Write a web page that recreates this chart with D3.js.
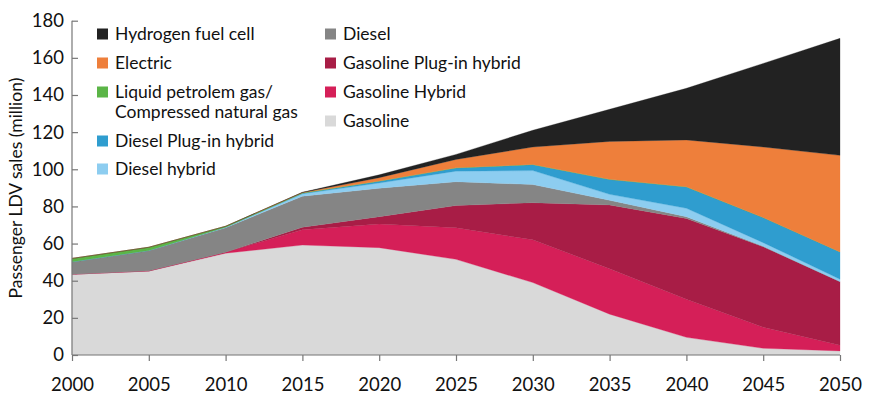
<!DOCTYPE html>
<html><head><meta charset="utf-8">
<script src="https://cdn.jsdelivr.net/npm/d3@7/dist/d3.min.js"></script>
<style>body{margin:0;background:#fff}svg{display:block}text{font-family:Lato,"Open Sans",sans-serif;fill:#111}</style>
</head><body><svg id="c" width="870" height="410"></svg>
<script>
const years = [2000,2005,2010,2015,2020,2025,2030,2035,2040,2045,2050];
const gasoline       = [43.5,45.2,54.8,59.2,57.8,51.5,39,22,9.5,3.6,2.2];
const gasolineHybrid = [0,0.1,0.5,8.3,12.7,17,23,24.5,20.5,11.4,3];
const gasolinePlugIn = [0,0,0,1.3,4,12,20,34.3,43.5,43.3,34.3];
const diesel         = [6.7,11,13.2,16.7,15.3,12.8,9.8,2.5,1,0.2,0.1];
const dieselHybrid   = [0,0,0.3,1.3,2.8,5.7,7.5,3.2,4.5,2,1.2];
const dieselPlugIn   = [0,0,0,0.3,1,1.7,3.2,8,11.5,13.5,14.7];
const lpgCng         = [1.8,1.7,0.5,0.2,0.1,0.1,0.1,0.1,0.1,0,0];
const electric       = [0,0,0,0.2,1.8,4.5,9.4,20.4,25.2,38,52];
const hydrogen       = [0,0,0,0.1,1.5,2.7,9,17.3,27.8,45,63];
const yTicks = [0,20,40,60,80,100,120,140,160,180];
const xTicks = years;

const series = [
  {key:"gasoline", name:"Gasoline", values:gasoline, color:"#d9d9d9"},
  {key:"gh", name:"Gasoline Hybrid", values:gasolineHybrid, color:"#d51f58"},
  {key:"gp", name:"Gasoline Plug-in hybrid", values:gasolinePlugIn, color:"#a81d46"},
  {key:"d", name:"Diesel", values:diesel, color:"#858585"},
  {key:"dh", name:"Diesel hybrid", values:dieselHybrid, color:"#8dcdf0"},
  {key:"dp", name:"Diesel Plug-in hybrid", values:dieselPlugIn, color:"#2f9dcf"},
  {key:"lpg", name:"Liquid petrolem gas/|Compressed natural gas", values:lpgCng, color:"#5bb547"},
  {key:"e", name:"Electric", values:electric, color:"#ee7f3b"},
  {key:"h", name:"Hydrogen fuel cell", values:hydrogen, color:"#222222"}
];

const rows = years.map((y,i)=>{const r={year:y}; series.forEach(s=>r[s.key]=s.values[i]); return r;});
const stack = d3.stack().keys(series.map(s=>s.key))(rows);

const svg = d3.select("#c");
const x = d3.scaleLinear().domain([2000,2050]).range([72,840]);
const y = d3.scaleLinear().domain([0,180]).range([355,20.7]);

const area = d3.area().x(d=>x(d.data.year)).y0(d=>y(d[0])).y1(d=>y(d[1])).curve(d3.curveLinear);
svg.append("g").selectAll("path").data(stack).join("path")
  .attr("d",area).attr("fill",(d,i)=>series[i].color).attr("stroke",(d,i)=>series[i].color).attr("stroke-width",0.3);

// axes
const xa = svg.append("g").attr("transform","translate(0,355)")
  .call(d3.axisBottom(x).tickValues(xTicks).tickFormat(d3.format("d")).tickSize(6).tickPadding(17));
const ya = svg.append("g").attr("transform","translate(72,0)")
  .call(d3.axisLeft(y).tickValues(yTicks).tickSize(-6).tickPadding(8));
[xa,ya].forEach(a=>{
  a.selectAll("path,line").attr("stroke","#777").attr("stroke-width",1.2);
  a.selectAll("text").style("font-size","18.5px").style("font-family","Lato, sans-serif").attr("fill","#111");
});
ya.select(".domain").attr("d","M0,355V20.7");
xa.select(".domain").attr("d","M72,0H840");

svg.append("text").attr("transform","translate(22,188) rotate(-90)").attr("text-anchor","middle")
  .style("font-size","17.5px").text("Passenger LDV sales (million)");

// legend
const leftCol = ["h","e","lpg","dp","dh"], rightCol = ["d","gp","gh","gasoline"];
const leftY = [34,63,92,141,169], rightY = [34,63,92,121];
function legendItem(k, lx, ly){
  const s = series.find(s=>s.key===k);
  const g = svg.append("g");
  g.append("rect").attr("x",lx).attr("y",ly-5.5).attr("width",11).attr("height",11).attr("fill",s.color);
  const lines = s.name.split("|");
  lines.forEach((t,j)=>g.append("text").attr("x",lx+18).attr("y",ly+6+j*20).style("font-size","17.5px").text(t));
}
leftCol.forEach((k,i)=>legendItem(k,97,leftY[i]));
rightCol.forEach((k,i)=>legendItem(k,325,rightY[i]));
</script></body></html>
